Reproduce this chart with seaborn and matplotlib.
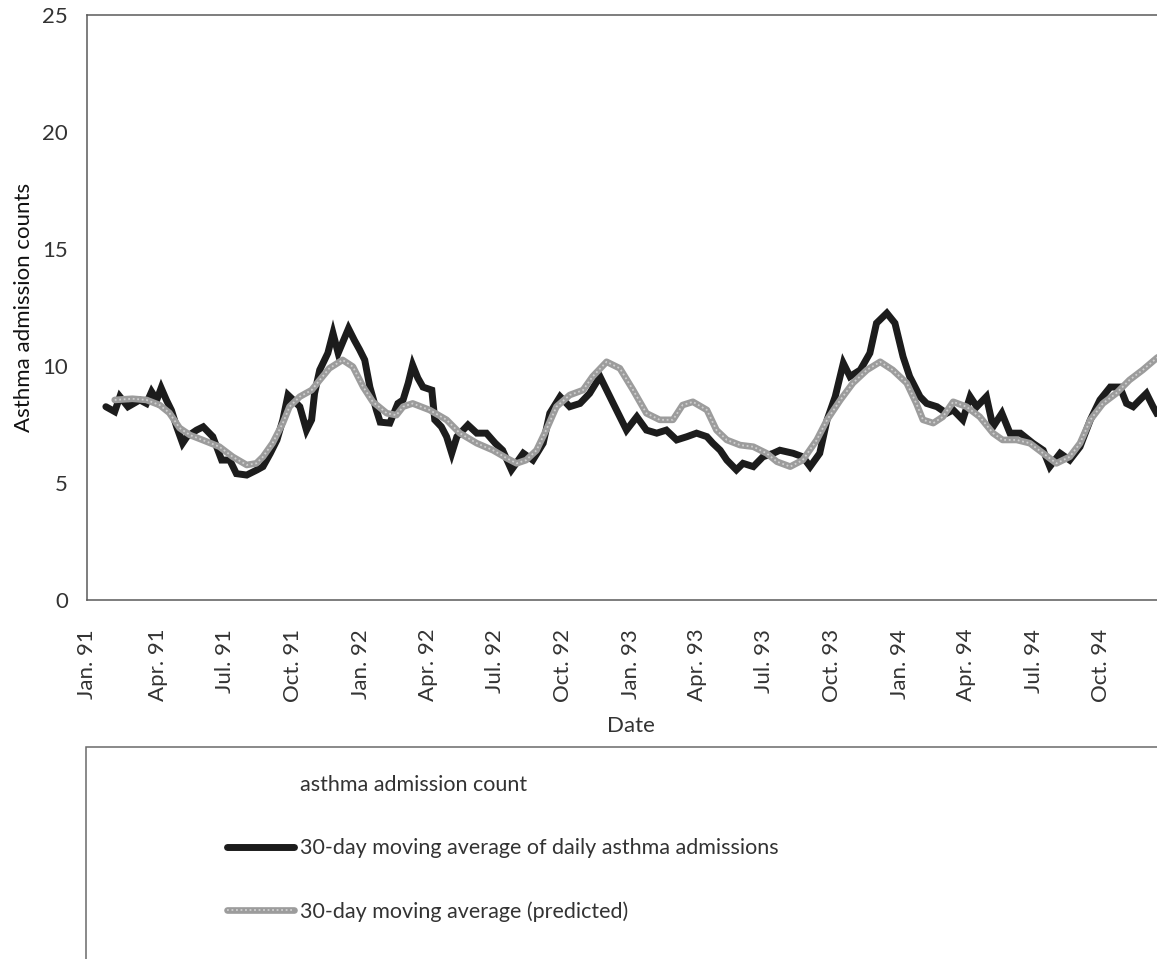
import matplotlib
matplotlib.use("Agg")
import matplotlib.pyplot as plt
from matplotlib.lines import Line2D
from matplotlib.patches import Rectangle
import pandas as pd
import seaborn as sns

# 30-day moving average of observed daily asthma admissions
observed_dates = [
    "1991-01-20", "1991-02-01", "1991-02-08", "1991-02-19", "1991-03-07", "1991-03-16",
    "1991-03-23", "1991-03-30", "1991-04-05", "1991-04-12", "1991-04-19", "1991-04-26",
    "1991-05-04", "1991-05-10", "1991-05-23", "1991-06-01", "1991-06-14", "1991-06-21",
    "1991-06-26", "1991-07-07", "1991-07-16", "1991-07-30", "1991-08-13", "1991-08-21",
    "1991-08-31", "1991-09-09", "1991-09-17", "1991-09-24", "1991-10-01", "1991-10-10",
    "1991-10-19", "1991-10-26", "1991-10-30", "1991-11-06", "1991-11-17", "1991-11-24",
    "1991-12-01", "1991-12-07", "1991-12-15", "1991-12-23", "1991-12-30", "1992-01-06",
    "1992-01-13", "1992-01-22", "1992-01-27", "1992-02-09", "1992-02-20", "1992-02-27",
    "1992-03-05", "1992-03-11", "1992-03-18", "1992-03-25", "1992-04-06", "1992-04-10",
    "1992-04-19", "1992-04-26", "1992-05-03", "1992-05-10", "1992-05-25", "1992-06-06",
    "1992-06-19", "1992-07-01", "1992-07-11", "1992-07-23", "1992-08-08", "1992-08-21",
    "1992-09-04", "1992-09-13", "1992-09-27", "1992-10-10", "1992-10-24", "1992-11-06",
    "1992-11-20", "1992-11-29", "1992-12-08", "1992-12-17", "1992-12-26", "1993-01-09",
    "1993-01-22", "1993-02-05", "1993-02-18", "1993-03-04", "1993-03-18", "1993-03-31",
    "1993-04-14", "1993-04-22", "1993-05-02", "1993-05-11", "1993-05-24", "1993-06-02",
    "1993-06-16", "1993-06-29", "1993-07-13", "1993-07-22", "1993-08-09", "1993-08-22",
    "1993-09-01", "1993-09-14", "1993-09-24", "1993-10-05", "1993-10-16", "1993-10-25",
    "1993-11-08", "1993-11-21", "1993-11-30", "1993-12-14", "1993-12-25", "1994-01-05",
    "1994-01-14", "1994-01-28", "1994-02-06", "1994-02-20", "1994-03-05", "1994-03-14",
    "1994-03-27", "1994-04-06", "1994-04-15", "1994-04-28", "1994-05-07", "1994-05-19",
    "1994-05-30", "1994-06-13", "1994-06-30", "1994-07-14", "1994-07-23", "1994-08-06",
    "1994-08-19", "1994-09-02", "1994-09-16", "1994-09-29", "1994-10-13", "1994-10-26",
    "1994-11-04", "1994-11-13", "1994-11-22", "1994-12-01", "1994-12-10", "1994-12-15",
    "1994-12-31",
]
observed_values = [
    8.26, 8.05, 8.69, 8.26, 8.55, 8.40,
    8.90, 8.55, 9.06, 8.55, 8.10, 7.40,
    6.70, 6.98, 7.26, 7.40, 6.98, 6.40,
    5.98, 5.98, 5.40, 5.34, 5.56, 5.70,
    6.27, 6.84, 7.70, 8.76, 8.55, 8.26,
    7.26, 7.70, 8.83, 9.83, 10.55, 11.40,
    10.55, 11.00, 11.60, 11.10, 10.70, 10.26,
    9.10, 8.10, 7.60, 7.56, 8.40, 8.55,
    9.27, 10.04, 9.49, 9.10, 8.97, 7.70,
    7.40, 6.98, 6.27, 6.98, 7.48, 7.13,
    7.13, 6.70, 6.40, 5.56, 6.27, 5.98,
    6.70, 7.98, 8.69, 8.26, 8.40, 8.83,
    9.55, 8.97, 8.40, 7.83, 7.26, 7.83,
    7.26, 7.13, 7.26, 6.84, 6.98, 7.13,
    6.98, 6.70, 6.40, 5.98, 5.56, 5.84,
    5.70, 6.12, 6.27, 6.40, 6.27, 6.12,
    5.70, 6.27, 7.70, 8.69, 10.12, 9.55,
    9.83, 10.55, 11.83, 12.26, 11.83, 10.40,
    9.55, 8.69, 8.40, 8.26, 7.98, 8.12,
    7.70, 8.69, 8.26, 8.69, 7.40, 7.98,
    7.13, 7.13, 6.70, 6.40, 5.70, 6.27,
    5.98, 6.55, 7.70, 8.55, 9.10, 9.10,
    8.40, 8.26, 8.55, 8.83, 8.26, 7.98,
    8.10,
]

# 30-day moving average of the model prediction
predicted_dates = [
    "1991-02-01", "1991-02-25", "1991-03-16", "1991-04-03", "1991-04-16", "1991-04-30",
    "1991-05-14", "1991-05-31", "1991-06-23", "1991-07-11", "1991-07-30", "1991-08-12",
    "1991-08-21", "1991-09-03", "1991-09-17", "1991-09-26", "1991-10-10", "1991-10-26",
    "1991-11-06", "1991-11-19", "1991-12-07", "1991-12-21", "1992-01-04", "1992-01-17",
    "1992-02-05", "1992-02-18", "1992-02-27", "1992-03-11", "1992-04-03", "1992-04-26",
    "1992-05-14", "1992-06-06", "1992-06-28", "1992-07-16", "1992-07-30", "1992-08-12",
    "1992-08-26", "1992-09-08", "1992-09-22", "1992-10-10", "1992-10-28", "1992-11-10",
    "1992-11-29", "1992-12-17", "1993-01-04", "1993-01-22", "1993-02-09", "1993-02-27",
    "1993-03-12", "1993-03-26", "1993-04-14", "1993-04-27", "1993-05-11", "1993-05-29",
    "1993-06-16", "1993-07-04", "1993-07-18", "1993-08-05", "1993-08-22", "1993-09-10",
    "1993-09-24", "1993-10-12", "1993-10-29", "1993-11-17", "1993-12-05", "1993-12-22",
    "1994-01-10", "1994-01-23", "1994-02-01", "1994-02-15", "1994-02-28", "1994-03-14",
    "1994-04-01", "1994-04-19", "1994-05-07", "1994-05-20", "1994-06-08", "1994-06-26",
    "1994-07-14", "1994-08-01", "1994-08-19", "1994-09-02", "1994-09-16", "1994-10-03",
    "1994-10-21", "1994-11-08", "1994-11-26", "1994-12-15", "1994-12-31",
]
predicted_values = [
    8.55, 8.60, 8.55, 8.33, 8.00, 7.35,
    7.05, 6.84, 6.55, 6.12, 5.77, 5.84,
    6.12, 6.70, 7.56, 8.26, 8.69, 8.97,
    9.40, 9.90, 10.26, 9.97, 9.10, 8.47,
    7.98, 7.90, 8.26, 8.40, 8.12, 7.70,
    7.13, 6.70, 6.40, 6.07, 5.84, 5.98,
    6.40, 7.26, 8.26, 8.76, 8.97, 9.55,
    10.18, 9.90, 8.97, 7.98, 7.70, 7.70,
    8.33, 8.47, 8.12, 7.26, 6.84, 6.62,
    6.55, 6.27, 5.91, 5.70, 5.98, 6.84,
    7.70, 8.55, 9.27, 9.83, 10.18, 9.83,
    9.27, 8.40, 7.70, 7.56, 7.83, 8.47,
    8.26, 7.83, 7.13, 6.84, 6.84, 6.70,
    6.27, 5.84, 6.12, 6.70, 7.70, 8.40,
    8.83, 9.40, 9.83, 10.34, 10.70,
]

tick_dates = [
    "1991-01-01", "1991-04-01", "1991-07-01", "1991-10-01",
    "1992-01-01", "1992-04-01", "1992-07-01", "1992-10-01",
    "1993-01-01", "1993-04-01", "1993-07-01", "1993-10-01",
    "1994-01-01", "1994-04-01", "1994-07-01", "1994-10-01",
]
tick_labels = [
    "Jan. 91", "Apr. 91", "Jul. 91", "Oct. 91",
    "Jan. 92", "Apr. 92", "Jul. 92", "Oct. 92",
    "Jan. 93", "Apr. 93", "Jul. 93", "Oct. 93",
    "Jan. 94", "Apr. 94", "Jul. 94", "Oct. 94",
]

observed = pd.DataFrame({"date": pd.to_datetime(observed_dates), "count": observed_values})
predicted = pd.DataFrame({"date": pd.to_datetime(predicted_dates), "count": predicted_values})

sns.set_style("white")
plt.rcParams["font.family"] = ["Lato", "DejaVu Sans"]

TEXT = "#333333"
SPINE = "#5a5a5a"
BLACK = "#1c1c1c"
GREY = "#9c9c9c"
GREY_LIGHT = "#cfcfcf"

fig = plt.figure(figsize=(11.57, 9.59), dpi=100)
W, H = 1157, 959
ax = fig.add_axes([87 / W, 1 - 600 / H, (1174 - 87) / W, (600 - 15) / H])

sns.lineplot(data=observed, x="date", y="count", ax=ax, color=BLACK,
             linewidth=5.0, solid_joinstyle="miter", zorder=3)
sns.lineplot(data=predicted, x="date", y="count", ax=ax, color=GREY,
             linewidth=4.8, zorder=4)
# speckled texture on the predicted band
sns.lineplot(data=predicted, x="date", y="count", ax=ax, color=GREY_LIGHT,
             linewidth=1.3, linestyle=(0, (1, 1.5)), zorder=5)

x_start = pd.Timestamp("1990-12-25 10:00")
x_end = pd.Timestamp("1995-01-07 10:00")
ax.set_xlim(x_start, x_end)
ax.set_ylim(0, 25)

ticks = list(pd.to_datetime(tick_dates))
ticks[0] = x_start  # first tick sits on the left axis line
ax.set_xticks(ticks)
ax.set_xticklabels(tick_labels, rotation=90)
ax.set_yticks([0, 5, 10, 15, 20, 25])

ax.tick_params(axis="x", direction="inout", length=21.5, width=1.1, color=SPINE,
               pad=10, labelsize=16, labelcolor=TEXT)
ax.tick_params(axis="y", direction="inout", length=19.5, width=1.1, color=SPINE,
               pad=4, labelsize=16, labelcolor=TEXT)

for side in ["left", "bottom", "top"]:
    ax.spines[side].set_color(SPINE)
    ax.spines[side].set_linewidth(1.1)
ax.spines["right"].set_visible(False)

ax.set_xlabel("Date", fontsize=16, color=TEXT, labelpad=10)
ax.set_ylabel("Asthma admission counts", fontsize=16, color="#111111", labelpad=6)

# legend panel below the chart
fig.patches.append(Rectangle((86 / W, -0.2), 1.2, (1 - 747 / H) + 0.2,
                             transform=fig.transFigure, fill=False,
                             edgecolor="#6a6a6a", linewidth=1.1))

title_handle = Line2D([], [], color="none")
obs_handle = Line2D([], [], color=BLACK, linewidth=5.0)
pred_handle = Line2D([], [], color=GREY, linewidth=4.8)
pred_tex = Line2D([], [], color=GREY_LIGHT, linewidth=1.3, linestyle=(0, (1, 1.5)))

leg = fig.legend(
    [title_handle, obs_handle, (pred_handle, pred_tex)],
    ["asthma admission count",
     "30-day moving average of daily asthma admissions",
     "30-day moving average (predicted)"],
    loc="upper left", bbox_to_anchor=(227 / W, 1 - 775 / H),
    frameon=False, fontsize=15.5, handlelength=3.1, handletextpad=0.3,
    labelspacing=2.0, borderpad=0, borderaxespad=0,
)
for t in leg.get_texts():
    t.set_color(TEXT)

fig.savefig("out.png", dpi=100)
